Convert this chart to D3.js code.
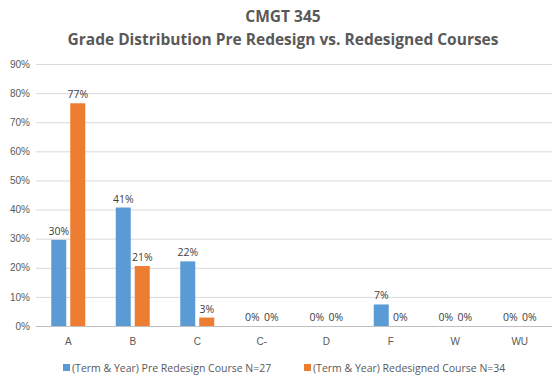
<!DOCTYPE html>
<html><head><meta charset="utf-8">
<script src="https://cdn.jsdelivr.net/npm/d3@7"></script>
<style>body{margin:0;background:#fff;}svg{display:block;font-family:"Open Sans","Noto Sans",sans-serif;}</style>
</head><body>
<script>
const categories = ["A","B","C","C-","D","F","W","WU"];
const preValues = [29.6, 40.7, 22.2, 0, 0, 7.4, 0, 0];
const postValues = [76.5, 20.6, 2.9, 0, 0, 0, 0, 0];
const seriesNames = ["(Term & Year) Pre Redesign Course N=27", "(Term & Year) Redesigned Course N=34"];
const colors = ["#5b9bd5", "#ed7d31"];
const yTicks = [0,10,20,30,40,50,60,70,80,90];

const W = 558, H = 378;
const svg = d3.select("body").append("svg").attr("width", W).attr("height", H);
const m = {left: 36, right: 6, top: 64, bottom: 52};
const x = d3.scaleBand().domain(categories).range([m.left, W - m.right]);
const y = d3.scaleLinear().domain([0, 90]).range([H - m.bottom, m.top]);

svg.append("text").attr("x", W/2 + 4).attr("y", 22).attr("text-anchor","middle")
  .attr("font-size", 15.5).attr("font-weight","bold").attr("fill","#595959").text("CMGT 345");
svg.append("text").attr("x", W/2 + 4).attr("y", 45).attr("text-anchor","middle")
  .attr("font-size", 15.5).attr("font-weight","bold").attr("fill","#595959")
  .text("Grade Distribution Pre Redesign vs. Redesigned Courses");

const yAxis = d3.axisLeft(y).tickValues(yTicks).tickSize(-(W - m.left - m.right)).tickFormat(d => d + "%");
const gy = svg.append("g").attr("transform", `translate(${m.left},0)`).call(yAxis);
gy.select(".domain").remove();
gy.selectAll(".tick line").attr("stroke", d => d === 0 ? "#bfbfbf" : "#d9d9d9");
gy.selectAll(".tick text").attr("x", -6).attr("font-size", 10).attr("fill", "#595959").attr("font-family","inherit");

const xAxis = d3.axisBottom(x).tickSize(0).tickPadding(12);
const gx = svg.append("g").attr("transform", `translate(0,${H - m.bottom})`).call(xAxis);
gx.select(".domain").remove();
gx.selectAll(".tick text").attr("font-size", 10).attr("fill", "#595959").attr("font-family","inherit");

const bw = 15, gap = 4;
const series = [preValues, postValues];
series.forEach((vals, si) => {
  const off = si === 0 ? -(bw + gap/2) : gap/2;
  const g = svg.append("g");
  g.selectAll("rect").data(categories).join("rect")
    .attr("x", c => x(c) + x.bandwidth()/2 + off)
    .attr("width", bw)
    .attr("y", (c, i) => y(vals[i]))
    .attr("height", (c, i) => y(0) - y(vals[i]))
    .attr("fill", colors[si]);
  g.selectAll("text").data(categories).join("text")
    .attr("x", c => x(c) + x.bandwidth()/2 + off + bw/2)
    .attr("y", (c, i) => y(vals[i]) - 5)
    .attr("text-anchor", "middle").attr("font-size", 10.5).attr("fill", "#404040")
    .text((c, i) => Math.round(vals[i]) + "%");
});

const leg = svg.append("g").attr("transform", `translate(0,${H - 10})`);
const legX = [63, 304];
seriesNames.forEach((n, i) => {
  leg.append("rect").attr("x", legX[i]).attr("y", -4).attr("width", 7).attr("height", 7).attr("fill", colors[i]);
  leg.append("text").attr("x", legX[i] + 9).attr("y", 3.5).attr("font-size", 10.5).attr("fill", "#595959").text(n);
});
</script>
</body></html>
